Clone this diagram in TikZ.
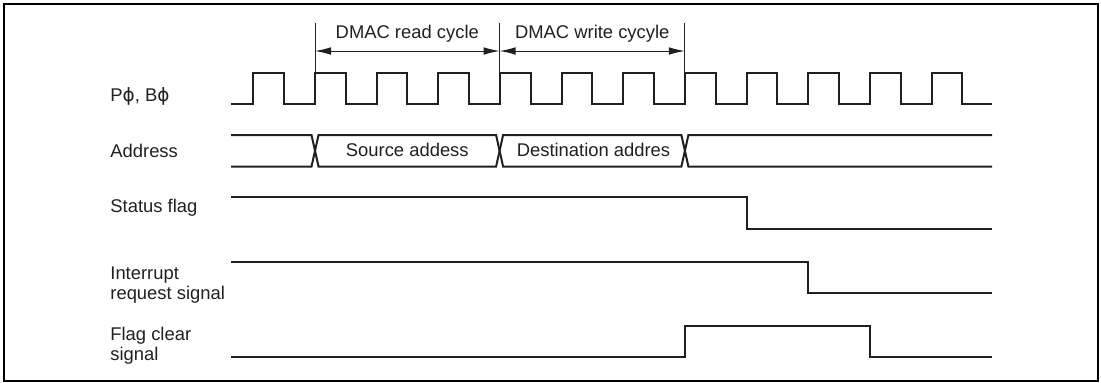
\documentclass[tikz,border=0pt]{standalone}
\usepackage{fontspec}
\setmainfont{Liberation Sans}
\newfontfamily\phifont{DejaVu Sans}
\usetikzlibrary{arrows.meta}
\definecolor{wave}{RGB}{35,31,32}

\begin{document}
\begin{tikzpicture}[x=0.5pt, y=-0.5pt, >={Latex[length=8pt,width=3.8pt]},
    sigline/.style={
            draw=wave,
            line width=1pt,
            line join=miter
        },
        cycmark/.style={draw=wave, line width=0.5pt},
        cycspan/.style={draw=wave, line width=0.5pt, <->},
        siglabel/.style={
            anchor=base west,
            inner sep=0pt,
            text=wave,
            align=left,
            font=\fontsize{9.2}{10}\selectfont
        },
        buslabel/.style={anchor=base, inner sep=0pt, text=wave, font=\fontsize{9.2}{10}\selectfont}
]
    \useasboundingbox (0,0) rectangle (1101,382);
    \draw [line width=1pt] (4,4.3) rectangle (1097.8,380.5);

    % signal names
    \node [siglabel] (clk) at (110,101.5) {P{\phifont\char"03D5}, B{\phifont\char"03D5}};
    \node [siglabel] (addr) at (110,157) {Address};
    \node [siglabel] (flag) at (110,212.3) {Status flag};
    \node [siglabel, anchor=north west] (irq) at (110,266) {Interrupt\\request signal};
    \node [siglabel, anchor=north west] (clr) at (110,326.7) {Flag clear\\signal};

    % cycle boundaries
    \coordinate (cyc1) at (315,51);
    \coordinate (cyc2) at (499.6,51);
    \coordinate (cyc3) at (684.9,51);
    \foreach \c in {cyc1,cyc2,cyc3}
        \draw [cycmark] (\c) ++(0,-28) -- ++(0,50);
    \draw [cycspan] (cyc1) -- node [buslabel, yshift=6.4pt] (rdtxt) {DMAC read cycle} (cyc2);
    \draw [cycspan] (cyc2) -- node [buslabel, yshift=6.4pt] (wrtxt) {DMAC write cycyle} (cyc3);

    % clock
    \draw [sigline] (231,104)
        \foreach \k [evaluate=\k as \r using 253.3+61.66*\k] in {0,...,11} {
            -- (\r,104) -- (\r,73) -- (\r+30.83,73) -- (\r+30.83,104)
        } -- (992,104);

    % address bus
    \draw [sigline] (231,135) -- (311.5,135) -- (318.5,166.5) -- (496.1,166.5) -- (503.1,135)
        -- (681.4,135) -- (688.4,166.5) -- (992,166.5);
    \draw [sigline] (231,166.5) -- (311.5,166.5) -- (318.5,135) -- (496.1,135) -- (503.1,166.5)
        -- (681.4,166.5) -- (688.4,135) -- (992,135);
    \node [buslabel] (src) at (407.3,156.7) {Source addess};
    \node [buslabel] (dst) at (593.5,156.7) {Destination addres};

    % status flag, interrupt, flag clear
    \draw [sigline] (231,197) -- (746.6,197) -- (746.6,229.3) -- (992,229.3);
    \draw [sigline] (231,262.3) -- (808.2,262.3) -- (808.2,293.3) -- (992,293.3);
    \draw [sigline] (231,356.7) -- (684.9,356.7) -- (684.9,325.7) -- (869.9,325.7)
        -- (869.9,356.7) -- (992,356.7);
\end{tikzpicture}
\end{document}
